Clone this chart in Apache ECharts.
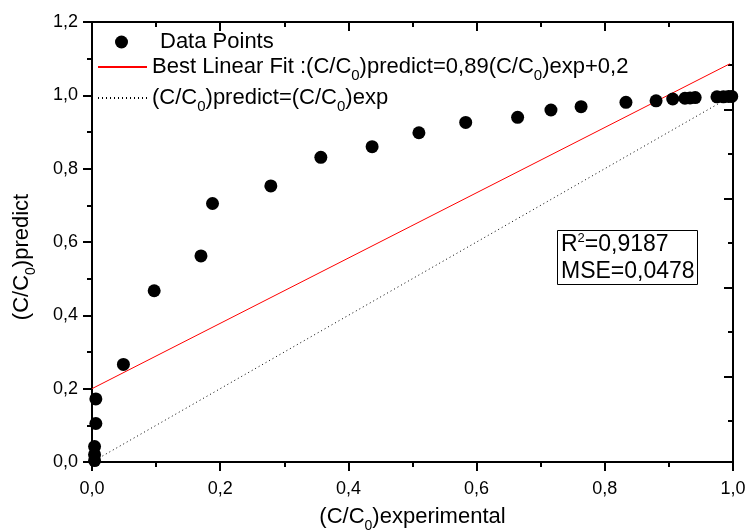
<!DOCTYPE html>
<html>
<head>
<meta charset="utf-8">
<script src="https://cdn.jsdelivr.net/npm/echarts@6/dist/echarts.min.js"></script>
<style>
  html, body { margin: 0; padding: 0; background: #fff; }
  #chart { width: 747px; height: 531px; }
</style>
</head>
<body>
<div id="chart"></div>
<script>
// measured points
const expX = [0.004, 0.004, 0.004, 0.006, 0.006, 0.049, 0.097, 0.170, 0.188, 0.279,
  0.357, 0.437, 0.510, 0.583, 0.664, 0.716, 0.763, 0.833, 0.880, 0.906,
  0.925, 0.933, 0.941, 0.975, 0.985, 0.993, 0.998]
const predY = [0.004, 0.02, 0.042, 0.105, 0.172, 0.266, 0.467, 0.562, 0.705, 0.753,
  0.831, 0.860, 0.898, 0.926, 0.940, 0.960, 0.969, 0.981, 0.985, 0.990,
  0.992, 0.993, 0.994, 0.996, 0.996, 0.997, 0.997]
// best linear fit (0.89x + 0.2) end points
const fitX = [0, 0.995]
const fitY = [0.2, 1.086]
// y = x reference
const idX = [0, 0.98]
const idY = [0, 0.98]

const FONT = 'Liberation Sans, Arial, sans-serif'
const comma = v => v.toFixed(1).replace('.', ',')

const chart = echarts.init(document.getElementById('chart'))

const zip = (a, b) => a.map((v, i) => [v, b[i]])

const richText = (size, subSize, extra) => ({
  t: Object.assign({ fontFamily: FONT, fontSize: size, color: '#000' }, extra || {}),
  s: { fontFamily: FONT, fontSize: subSize, color: '#000', padding: [18, 0, 0, 0] }
})

const legendBase = {
  orient: 'vertical',
  left: 97,
  padding: 0,
  itemWidth: 49,
  itemHeight: 13,
  selectedMode: false,
  itemStyle: { opacity: 0 },
  textStyle: {
    fontFamily: FONT,
    fontSize: 22,
    color: '#000',
    rich: richText(22, 15)
  }
}

const axisCommon = {
  type: 'value',
  axisLine: { show: true, onZero: false, lineStyle: { color: '#000', width: 2 } },
  axisTick: { show: true, length: 9, lineStyle: { color: '#000', width: 2 } },
  minorTick: { show: true, splitNumber: 2, length: 5, lineStyle: { color: '#000', width: 2 } },
  splitLine: { show: false },
  axisLabel: { color: '#000', fontFamily: FONT, fontSize: 18, formatter: comma }
}

chart.setOption({
  animation: false,
  backgroundColor: '#fff',
  grid: { left: 92, right: 14, top: 22, bottom: 69, containLabel: false, outerBoundsMode: 'none' },
  title: {
    left: 557,
    top: 229,
    text: '{a|R}{b|2}{a|=0,9187}\n{a|MSE=0,0478}',
    borderColor: '#000',
    borderWidth: 1,
    padding: [2, 3, 2, 4],
    textStyle: {
      fontWeight: 'normal',
      rich: {
        a: { fontFamily: FONT, fontSize: 23, fontWeight: 'normal', lineHeight: 27, color: '#000' },
        b: { fontFamily: FONT, fontSize: 13, fontWeight: 'normal', color: '#000', padding: [0, 0, 12, 0] }
      }
    }
  },
  legend: [
    Object.assign({}, legendBase, {
      left: 115,
      top: 31,
      itemStyle: {},
      data: ['Data Points'],
      textStyle: Object.assign({}, legendBase.textStyle, {
        rich: richText(22, 15, { padding: [0, 0, 0, 9] })
      }),
      formatter: () => '{t|Data Points}'
    }),
    Object.assign({}, legendBase, {
      top: 56,
      data: ['fit'],
      formatter: () => '{t|Best Linear Fit :(C/C}{s|0}{t|)predict=0,89(C/C}{s|0}{t|)exp+0,2}'
    }),
    Object.assign({}, legendBase, {
      top: 87,
      data: ['identity'],
      formatter: () => '{t|(C/C}{s|0}{t|)predict=(C/C}{s|0}{t|)exp}'
    })
  ],
  xAxis: [
    Object.assign({}, axisCommon, {
      position: 'bottom',
      min: 0, max: 1, interval: 0.2,
      axisLabel: Object.assign({}, axisCommon.axisLabel, { margin: 18 }),
      name: '{t|(C/C}{s|0}{t|)experimental}',
      nameLocation: 'middle',
      nameGap: 39,
      nameTextStyle: { rich: richText(22, 14) }
    }),
    Object.assign({}, axisCommon, {
      position: 'top',
      min: 0, max: 1, interval: 0.2,
      axisTick: Object.assign({}, axisCommon.axisTick, { inside: true }),
      minorTick: Object.assign({}, axisCommon.minorTick, { inside: true }),
      axisLabel: { show: false }
    })
  ],
  yAxis: [
    Object.assign({}, axisCommon, {
      position: 'left',
      min: 0, max: 1.2, interval: 0.2,
      axisLabel: Object.assign({}, axisCommon.axisLabel, { margin: 14 }),
      name: '{t|(C/C}{s|0}{t|)predict}',
      nameLocation: 'middle',
      nameGap: 54,
      nameTextStyle: {
        padding: [0, 30, 0, 0],
        rich: richText(22, 14)
      }
    }),
    Object.assign({}, axisCommon, {
      // the right frame has its own tick spacing
      position: 'right',
      min: 0.079, max: 9.967,
      minInterval: 2, maxInterval: 2,
      axisTick: Object.assign({}, axisCommon.axisTick, { inside: true }),
      minorTick: Object.assign({}, axisCommon.minorTick, { inside: true }),
      axisLabel: { show: false }
    })
  ],
  series: [
    {
      name: 'Data Points',
      type: 'scatter',
      symbol: 'circle',
      symbolSize: 13,
      itemStyle: { color: '#000', opacity: 1 },
      data: zip(expX, predY),
      z: 3
    },
    {
      name: 'fit',
      type: 'line',
      symbol: 'none',
      lineStyle: { color: '#ff0000', width: 1 },
      itemStyle: { color: '#ff0000' },
      data: zip(fitX, fitY),
      z: 2
    },
    {
      name: 'identity',
      type: 'line',
      symbol: 'none',
      lineStyle: { color: '#000', width: 1, type: [1, 3] },
      itemStyle: { color: '#000' },
      data: zip(idX, idY),
      z: 2
    }
  ]
})
</script>
</body>
</html>
